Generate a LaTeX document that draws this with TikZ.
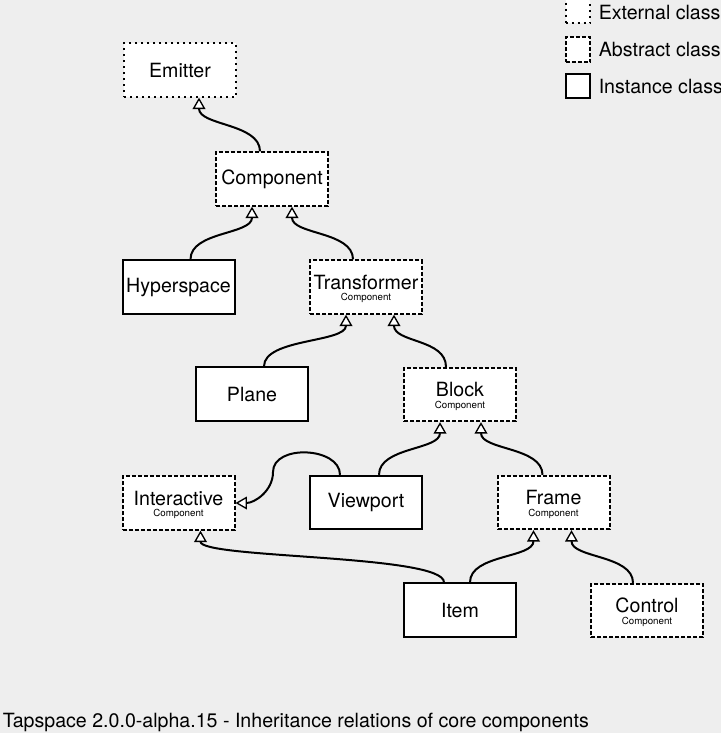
\documentclass[tikz,border=0pt]{standalone}
\usepackage{fontspec}
\setmainfont{TeX Gyre Heros}
\usetikzlibrary{arrows.meta,calc}
\definecolor{canvas}{RGB}{238,238,238}
\newcommand\mainsize{\fontsize{14.7}{13}\selectfont}
\newcommand\subsize{\fontsize{7.3}{8}\selectfont}
\newcommand\compline{\rule{0pt}{13.5pt}\\[-4.3pt]{\subsize Component}}

\begin{document}
\begin{tikzpicture}[x=0.75pt,y=-0.75pt,
    classbox/.style={draw,fill=white,line width=1.5pt,minimum width=84pt,minimum height=40pt,inner sep=0pt,align=center,font=\mainsize},
    external/.style={classbox,dash pattern=on 1.5pt off 3pt},
    abstract/.style={classbox,dash pattern=on 3pt off 1.5pt},
    instance/.style={classbox},
    legendbox/.style={draw,fill=white,line width=1.5pt,minimum size=18.5pt,inner sep=0pt},
    legendtext/.style={anchor=west,inner sep=0pt,font=\mainsize},
    inherit/.style={line width=1.5pt,-{Triangle[open,fill=white,length=8.5pt,width=9.5pt,line width=1pt]}}]
    \useasboundingbox (0,0) rectangle (721,733);
    \fill[canvas] (0,0) rectangle (721,733);
    % legend
    \node[legendbox,dash pattern=on 1.5pt off 3pt] (lgext) at (578,11) {};
    \node[legendbox,dash pattern=on 3pt off 1.5pt] (lgabs) at (578,49.5) {};
    \node[legendbox] (lginst) at (578,86) {};
    \node[legendtext] (lgexttext) at (598.5,12) {External class};
    \node[legendtext] (lgabstext) at (598.5,49.5) {Abstract class};
    \node[legendtext] (lginsttext) at (598.5,86) {Instance class};
    % classes
    \node[external] (emitter) at (180,70) {Emitter};
    \node[abstract] (component) at (272,179) {Component};
    \node[instance] (hyperspace) at (178.5,287) {Hyperspace};
    \node[abstract] (transformer) at (366,287) {Transformer\compline};
    \node[instance] (plane) at (252,394) {Plane};
    \node[abstract] (block) at (460,394.5) {Block\compline};
    \node[abstract] (interactive) at (178.5,503) {Interactive\compline};
    \node[instance] (viewport) at (366,502.5) {Viewport};
    \node[abstract] (frame) at (553.5,502.5) {Frame\compline};
    \node[instance] (item) at (460,610) {Item};
    \node[abstract] (control) at (647,610.5) {Control\compline};
    % inheritance
    \foreach \src/\sdx/\dst/\ddx in {component/-12/emitter/19, hyperspace/12/component/-20,
        transformer/-13/component/20, plane/12/transformer/-20, block/-14/transformer/28,
        viewport/13/block/-20, frame/-11/block/21, item/-16/interactive/22,
        item/10/frame/-20, control/-14/frame/18}
        \draw[inherit] ($(\src.north)+(\sdx,0)$) .. controls +(0,-28) and +(0,28) .. ($(\dst.south)+(\ddx,0)$);
    \coordinate (vpbend) at (273,472);
    \draw[inherit] ($(viewport.north)+(-26,0)$) .. controls +(0,-28) and +(0,-28) .. (vpbend)
        .. controls +(0,19) and +(19,0) .. (interactive.east);
    \node[anchor=base west,inner sep=0pt,font=\mainsize] (caption) at (2.5,727)
        {Tapspace 2.0.0-alpha.15 - Inheritance relations of core components};
\end{tikzpicture}
\end{document}
